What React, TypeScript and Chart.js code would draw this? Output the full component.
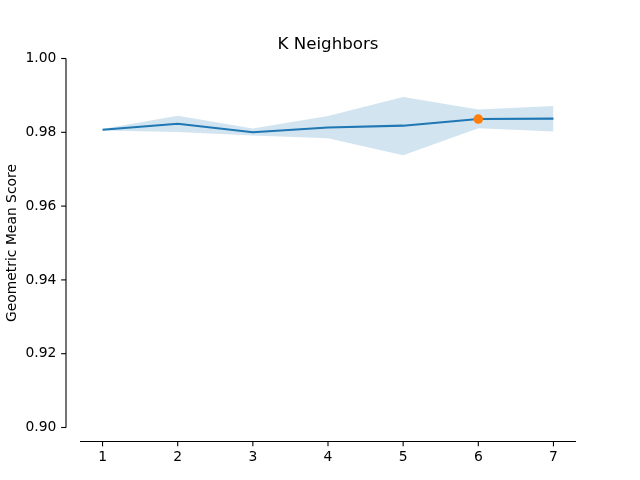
import React, { useEffect, useRef } from "react";
import { Chart, registerables } from "chart.js";

Chart.register(...registerables);

const kValues = [1, 2, 3, 4, 5, 6, 7];
const meanScores = [0.9807, 0.9823, 0.98, 0.9813, 0.9818, 0.9836, 0.9837];
const upperScores = [0.9809, 0.9845, 0.981, 0.9844, 0.9896, 0.9862, 0.9871];
const lowerScores = [0.9805, 0.9801, 0.9791, 0.9784, 0.9738, 0.9811, 0.9802];
const bestK = [6];
const bestScore = [0.9836];
const xTicks = [1, 2, 3, 4, 5, 6, 7];
const yTicks = [0.9, 0.92, 0.94, 0.96, 0.98, 1.0];

const FONT = "'DejaVu Sans', sans-serif";
const OFFSET = 14;
const TICK_LEN = 4.86;

const spinePlugin = {
  id: "offsetSpines",
  afterDraw(chart: any) {
    const { ctx, chartArea, scales } = chart;
    const xs = scales.x;
    const ys = scales.y;
    ctx.save();
    ctx.strokeStyle = "#000";
    ctx.lineWidth = 1.1;
    // y spine
    const sx = chartArea.left - OFFSET;
    ctx.beginPath();
    ctx.moveTo(sx, ys.getPixelForValue(1.0));
    ctx.lineTo(sx, ys.getPixelForValue(0.9));
    ctx.stroke();
    yTicks.forEach((v) => {
      const py = ys.getPixelForValue(v);
      ctx.beginPath();
      ctx.moveTo(sx - TICK_LEN, py);
      ctx.lineTo(sx, py);
      ctx.stroke();
    });
    // x spine
    const sy = chartArea.bottom + OFFSET;
    ctx.beginPath();
    ctx.moveTo(chartArea.left, sy);
    ctx.lineTo(chartArea.right, sy);
    ctx.stroke();
    xTicks.forEach((v) => {
      const px = xs.getPixelForValue(v);
      ctx.beginPath();
      ctx.moveTo(px, sy);
      ctx.lineTo(px, sy + TICK_LEN);
      ctx.stroke();
    });
    ctx.restore();
  },
};

export default function App() {
  const ref = useRef<HTMLCanvasElement | null>(null);

  useEffect(() => {
    if (!ref.current) return;
    const pts = (ys: number[]) => kValues.map((k, i) => ({ x: k, y: ys[i] }));
    const chart = new Chart(ref.current, {
      type: "line",
      data: {
        datasets: [
          {
            type: "scatter",
            label: "Best",
            data: bestK.map((k, i) => ({ x: k, y: bestScore[i] })),
            backgroundColor: "#ff7f0e",
            borderColor: "#ff7f0e",
            pointRadius: 4.8,
            borderWidth: 0,
          } as any,
          {
            label: "Mean",
            data: pts(meanScores),
            borderColor: "#1f77b4",
            borderWidth: 2.08,
            pointRadius: 0,
            tension: 0,
            fill: false,
          },
          {
            label: "Upper",
            data: pts(upperScores),
            borderWidth: 0,
            borderColor: "rgba(0,0,0,0)",
            backgroundColor: "rgba(31,119,180,0.2)",
            pointRadius: 0,
            tension: 0,
            fill: "+1",
          },
          {
            label: "Lower",
            data: pts(lowerScores),
            borderWidth: 0,
            borderColor: "rgba(0,0,0,0)",
            pointRadius: 0,
            tension: 0,
            fill: false,
          },
        ],
      },
      options: {
        animation: false,
        responsive: false,
        layout: { padding: { left: 0, right: 64, top: 0, bottom: 0 } },
        plugins: {
          legend: { display: false },
          tooltip: { enabled: false },
          title: {
            display: true,
            fullSize: false,
            text: "K Neighbors",
            color: "#000",
            font: { family: FONT, size: 16.67, weight: "normal", lineHeight: 1.2 },
            padding: { top: 34.5, bottom: 4 },
          },
        },
        scales: {
          x: {
            type: "linear",
            min: 0.7,
            max: 7.3,
            afterBuildTicks: (s: any) => {
              s.ticks = xTicks.map((v) => ({ value: v }));
            },
            afterFit: (s: any) => {
              s.height = 52.5;
            },
            grid: { display: false, drawTicks: false },
            border: { display: false },
            ticks: {
              color: "#000",
              font: { family: FONT, size: 13.89, lineHeight: 1.2 },
              padding: 21.5,
              maxRotation: 0,
              autoSkip: false,
              callback: (v: any) => String(v),
            },
          },
          y: {
            type: "linear",
            min: 0.9,
            max: 1.0,
            afterBuildTicks: (s: any) => {
              s.ticks = yTicks.map((v) => ({ value: v }));
            },
            afterFit: (s: any) => {
              s.width = 80;
            },
            grid: { display: false, drawTicks: false },
            border: { display: false },
            title: {
              display: true,
              text: "Geometric Mean Score",
              color: "#000",
              font: { family: FONT, size: 13.89, lineHeight: 1.2 },
              padding: { top: 3.6, bottom: 0 },
            },
            ticks: {
              color: "#000",
              font: { family: FONT, size: 13.89, lineHeight: 1.2 },
              padding: 23.7,
              autoSkip: false,
              callback: (v: any) => Number(v).toFixed(2),
            },
          },
        },
      },
      plugins: [spinePlugin],
    } as any);
    return () => chart.destroy();
  }, []);

  return (
    <div style={{ position: "absolute", left: 0, top: 0, width: 640, height: 480, background: "#fff" }}>
      <canvas ref={ref} width={640} height={480} />
    </div>
  );
}
